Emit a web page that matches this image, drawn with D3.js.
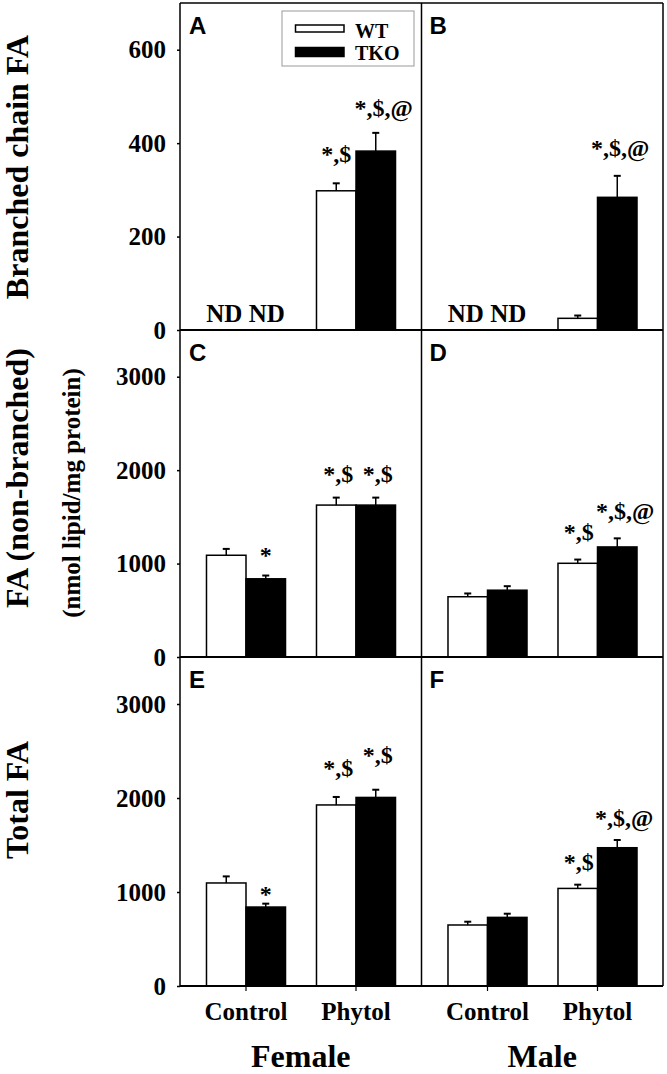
<!DOCTYPE html>
<html>
<head>
<meta charset="utf-8">
<script src="https://cdn.jsdelivr.net/npm/d3@7"></script>
<style>
  html, body { margin: 0; padding: 0; background: #fff; }
  svg { display: block; }
  text { font-family: "Liberation Serif", "Times New Roman", serif; font-weight: bold; fill: #000; }
  .letter { font-family: "Liberation Sans", Arial, sans-serif; font-weight: bold; }
</style>
</head>
<body>
<svg id="chart" width="667" height="1074"></svg>
<script>
// ---------------- DATA ----------------
const groups = ["Control", "Phytol"];
const genotypes = ["WT", "TKO"];
const sexes = ["Female", "Male"];
const panelLetters = ["A", "B", "C", "D", "E", "F"];
const rowTitles = ["Branched chain FA", "FA (non-branched)", "Total FA"];
const unitLabel = "(nmol lipid/mg protein)";
const ticksRow1 = [0, 200, 400, 600];
const ticksRow23 = [0, 1000, 2000, 3000];

// order of values: Control-WT, Control-TKO, Phytol-WT, Phytol-TKO  (null = not detected)
const bcfaFemale    = [null, null, 298, 383];
const bcfaFemaleErr = [null, null, 16, 39];
const bcfaMale      = [null, null, 25, 284];
const bcfaMaleErr   = [null, null, 6, 46];
const nbFemale      = [1089, 837, 1626, 1626];
const nbFemaleErr   = [68, 35, 80, 80];
const nbMale        = [645, 715, 1003, 1178];
const nbMaleErr     = [35, 43, 40, 92];
const totFemale     = [1096, 840, 1926, 2006];
const totFemaleErr  = [70, 36, 85, 82];
const totMale       = [649, 730, 1038, 1471];
const totMaleErr    = [35, 39, 40, 82];

const sigA = ["", "", "*,$", "*,$,@"];
const sigB = ["", "", "", "*,$,@"];
const sigC = ["", "*", "*,$", "*,$"];
const sigD = ["", "", "*,$", "*,$,@"];
const sigE = ["", "*", "*,$", "*,$"];
const sigF = ["", "", "*,$", "*,$,@"];
const ndLabel = "ND";

// ---------------- LAYOUT ----------------
const svg = d3.select("#chart");
const panelW = 241.5;
const colLeft = [180, 421.5];
const rows = [
  { top: 3,   bottom: 330, max: 700,  ticks: ticksRow1 },
  { top: 330, bottom: 657, max: 3500, ticks: ticksRow23 },
  { top: 657, bottom: 986, max: 3500, ticks: ticksRow23 }
];
// label offsets (px above error cap, horizontal shift)
const sigLift = [
  [0, 0, 21, 17], [0, 0, 0, 20],
  [0, 13, 16, 16], [0, 0, 20, 19],
  [0, 2, 21, 27], [0, 0, 15, 14]
];
const sigDx = [
  [0, 0, 0, 8], [0, 0, 0, 3],
  [0, 0, 2, 2], [0, 0, 1, 8],
  [0, 0, 2, 2], [0, 0, 1, 7]
];

const panels = [
  { vals: bcfaFemale, errs: bcfaFemaleErr, sig: sigA },
  { vals: bcfaMale,   errs: bcfaMaleErr,   sig: sigB },
  { vals: nbFemale,   errs: nbFemaleErr,   sig: sigC },
  { vals: nbMale,     errs: nbMaleErr,     sig: sigD },
  { vals: totFemale,  errs: totFemaleErr,  sig: sigE },
  { vals: totMale,    errs: totMaleErr,    sig: sigF }
];

const x0 = d3.scaleBand().domain(groups).range([11, 231]).paddingInner(0).paddingOuter(0);
const x1 = d3.scaleBand().domain(genotypes).range([0, x0.bandwidth()]).paddingInner(0).paddingOuter(0.392);
const fillFor = d3.scaleOrdinal().domain(genotypes).range(["#ffffff", "#000000"]);

panels.forEach((p, i) => {
  const r = Math.floor(i / 2), c = i % 2;
  const row = rows[r];
  const y = d3.scaleLinear().domain([0, row.max]).range([row.bottom, row.top]);
  const g = svg.append("g").attr("transform", `translate(${colLeft[c]},0)`);

  const items = [];
  groups.forEach((grp, gi) => genotypes.forEach((gt, ti) => {
    const k = gi * 2 + ti;
    items.push({ grp, gt, k, v: p.vals[k], e: p.errs[k], s: p.sig[k] });
  }));

  // bars
  items.filter(d => d.v != null).forEach(d => {
    const bx = x0(d.grp) + x1(d.gt), bw = x1.bandwidth();
    g.append("rect")
      .attr("x", bx).attr("y", y(d.v))
      .attr("width", bw).attr("height", y(0) - y(d.v))
      .attr("fill", fillFor(d.gt)).attr("stroke", "#000").attr("stroke-width", 1.5);
    const cx = bx + bw / 2;
    g.append("line").attr("x1", cx).attr("x2", cx)
      .attr("y1", y(d.v)).attr("y2", y(d.v + d.e))
      .attr("stroke", "#000").attr("stroke-width", 1.5);
    g.append("line").attr("x1", cx - 3.5).attr("x2", cx + 3.5)
      .attr("y1", y(d.v + d.e)).attr("y2", y(d.v + d.e))
      .attr("stroke", "#000").attr("stroke-width", 2);
    if (d.s) {
      g.append("text")
        .attr("x", cx + sigDx[i][d.k])
        .attr("y", y(d.v + d.e) - sigLift[i][d.k])
        .attr("text-anchor", "middle")
        .attr("font-size", 24)
        .text(d.s);
    }
  });
  // ND labels
  items.filter(d => d.v == null).forEach(d => {
    g.append("text")
      .attr("x", x0(d.grp) + x1(d.gt) + x1.bandwidth() / 2 + (d.gt === "WT" ? -2 : 1))
      .attr("y", row.bottom - 8)
      .attr("text-anchor", "middle")
      .attr("font-size", 25)
      .text(ndLabel);
  });

  // panel letter
  g.append("text").attr("class", "letter")
    .attr("x", c === 0 ? 9 : 8).attr("y", row.top + 31)
    .attr("font-size", 24).text(panelLetters[i]);

  // y axis (left column only)
  if (c === 0) {
    const ax = d3.axisLeft(y).tickValues(row.ticks).tickSize(3).tickPadding(11).tickFormat(d3.format("d"));
    const axg = svg.append("g").attr("transform", `translate(${colLeft[0]},0)`).call(ax);
    axg.select(".domain").remove();
    axg.selectAll(".tick line").attr("stroke", "#000").attr("stroke-width", 1.5);
    axg.selectAll(".tick text")
      .attr("font-size", 25)
      .attr("font-family", "Liberation Serif, serif")
      .attr("font-weight", "bold")
      .attr("fill", "#000");
  }
});

// frame lines
const frameColor = "#000";
const left = colLeft[0], right = colLeft[1] + panelW, mid = colLeft[1];
svg.append("line").attr("x1", left).attr("x2", right).attr("y1", rows[0].top).attr("y2", rows[0].top)
  .attr("stroke", frameColor).attr("stroke-width", 1.5);
rows.forEach(rw => {
  svg.append("line").attr("x1", left).attr("x2", right).attr("y1", rw.bottom).attr("y2", rw.bottom)
    .attr("stroke", frameColor).attr("stroke-width", 2);
});
[left, mid, right].forEach(xx => {
  svg.append("line").attr("x1", xx).attr("x2", xx).attr("y1", rows[0].top).attr("y2", rows[2].bottom)
    .attr("stroke", frameColor).attr("stroke-width", 1.5);
});

// bottom x-axis ticks and labels
colLeft.forEach((cl, c) => {
  const ax = d3.axisBottom(x0).tickSize(5).tickPadding(0);
  const axg = svg.append("g").attr("transform", `translate(${cl},${rows[2].bottom})`).call(ax);
  axg.select(".domain").remove();
  axg.selectAll(".tick line").attr("stroke", "#000").attr("stroke-width", 1.2);
  axg.selectAll(".tick text").remove();
  groups.forEach(grp => {
    svg.append("text")
      .attr("x", cl + x0(grp) + x0.bandwidth() / 2)
      .attr("y", 1020)
      .attr("text-anchor", "middle")
      .attr("font-size", 25)
      .text(grp);
  });
  svg.append("text")
    .attr("x", cl + panelW / 2)
    .attr("y", 1067)
    .attr("text-anchor", "middle")
    .attr("font-size", 32)
    .text(sexes[c]);
});

// legend
const lg = svg.append("g");
lg.append("rect").attr("x", 282).attr("y", 11).attr("width", 132).attr("height", 55)
  .attr("fill", "#fff").attr("stroke", "#999").attr("stroke-width", 1);
genotypes.forEach((gt, i) => {
  lg.append("rect").attr("x", 295.5).attr("y", 25 + i * 22.5).attr("width", 48.5).attr("height", i === 0 ? 7 : 9)
    .attr("fill", fillFor(gt)).attr("stroke", "#000").attr("stroke-width", 1.5);
  lg.append("text").attr("x", 355).attr("y", 37.5 + i * 22.5).attr("font-size", 20).text(gt);
});

// y titles
function vtext(txt, x, yc, size) {
  svg.append("text")
    .attr("transform", `translate(${x},${yc}) rotate(-90)`)
    .attr("text-anchor", "middle")
    .attr("font-size", size)
    .text(txt);
}
vtext(rowTitles[0], 28, 167, 32);
vtext(rowTitles[1], 28, 478, 32);
vtext(unitLabel, 80, 493, 25);
vtext(rowTitles[2], 28, 800, 32);
</script>
</body>
</html>
